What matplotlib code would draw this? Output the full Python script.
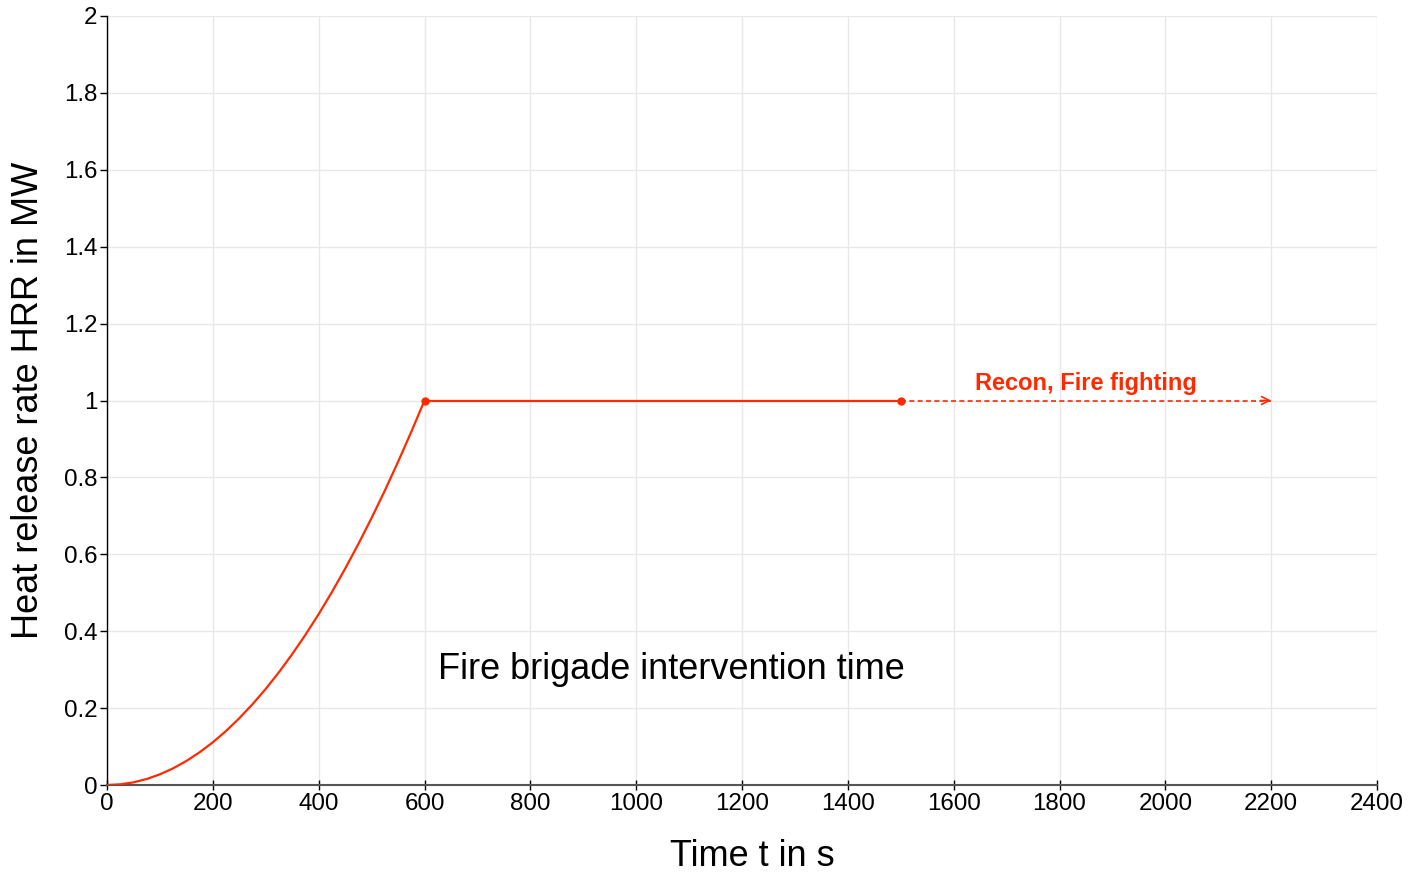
import matplotlib
matplotlib.use("Agg")
import matplotlib.pyplot as plt
from matplotlib.ticker import FuncFormatter

plt.rcParams["font.family"] = ["Liberation Sans", "DejaVu Sans"]

# Growth phase (t-squared fire) up to the plateau
growth_t = [0, 25, 50, 75, 100, 125, 150, 175, 200, 225, 250, 275, 300,
            325, 350, 375, 400, 425, 450, 475, 500, 525, 550, 575, 600]
growth_hrr = [0.0, 0.0017, 0.0069, 0.0156, 0.0278, 0.0434, 0.0625, 0.0851, 0.111,
              0.1406, 0.1736, 0.2101, 0.25, 0.2934, 0.3403, 0.3906, 0.4444, 0.5017,
              0.5625, 0.6267, 0.6944, 0.7656, 0.8403, 0.9184, 1.0]

# Constant phase until intervention
plateau_t = [600, 1500]
plateau_hrr = [1.0, 1.0]

# Recon / fire fighting phase (dashed arrow)
recon_t = [1500, 2200]
recon_hrr = [1.0, 1.0]

x_ticks = [0, 200, 400, 600, 800, 1000, 1200, 1400, 1600, 1800, 2000, 2200, 2400]
y_ticks = [0, 0.2, 0.4, 0.6, 0.8, 1.0, 1.2, 1.4, 1.6, 1.8, 2.0]

red = "#ff2a00"

fig = plt.figure(figsize=(14.12, 8.74), dpi=100)
ax = fig.add_axes([107 / 1412, 1 - 785 / 874, 1270 / 1412, 769 / 874])

ax.plot(growth_t, growth_hrr, color=red, lw=1.6, solid_capstyle="round",
        solid_joinstyle="round", zorder=3)
ax.plot(plateau_t, plateau_hrr, color=red, lw=1.6, zorder=3)
ax.plot(recon_t, recon_hrr, color=red, lw=1.2, ls=(0, (3, 2)), zorder=3)
ax.annotate("", xy=(recon_t[1], recon_hrr[1]), xytext=(recon_t[1] - 20, recon_hrr[1]),
            arrowprops=dict(arrowstyle="->", color=red, lw=1.2, shrinkA=0, shrinkB=0,
                            mutation_scale=14), zorder=3)
ax.plot([plateau_t[0], plateau_t[1]], [plateau_hrr[0], plateau_hrr[1]], ls="none",
        marker="o", ms=5, color=red, zorder=4)

ax.text(1066, 0.30, "Fire brigade intervention time", fontsize=26, ha="center", va="center",
        color="black")
ax.text(1850, 1.043, "Recon, Fire fighting", fontsize=17, fontweight="bold", ha="center",
        va="center", color=red)

ax.set_xlim(0, 2400)
ax.set_ylim(0, 2)
ax.set_xticks(x_ticks)
ax.set_yticks(y_ticks)
ax.yaxis.set_major_formatter(FuncFormatter(lambda v, p: f"{v:g}"))
ax.tick_params(axis="x", direction="inout", length=7, width=1, labelsize=17.4, pad=2)
ax.tick_params(axis="y", direction="out", length=5, width=1, labelsize=17.4, pad=2)

ax.grid(True, color="#e8e8e8", lw=1)
ax.set_axisbelow(True)
for s in ["top", "right"]:
    ax.spines[s].set_visible(False)
ax.spines["left"].set_color("black")
ax.spines["left"].set_linewidth(1)
ax.spines["bottom"].set_color("#555555")
ax.spines["bottom"].set_linewidth(1.5)

ax.set_xlabel("Time t in s", fontsize=26)
ax.set_ylabel("Heat release rate HRR in MW", fontsize=26)
ax.xaxis.set_label_coords(0.508, -0.0936)
ax.yaxis.set_label_coords(-0.0622, 0.5)
ax.xaxis.label.set_va("center")
ax.yaxis.label.set_va("center")

fig.savefig("out.png", dpi=100)
